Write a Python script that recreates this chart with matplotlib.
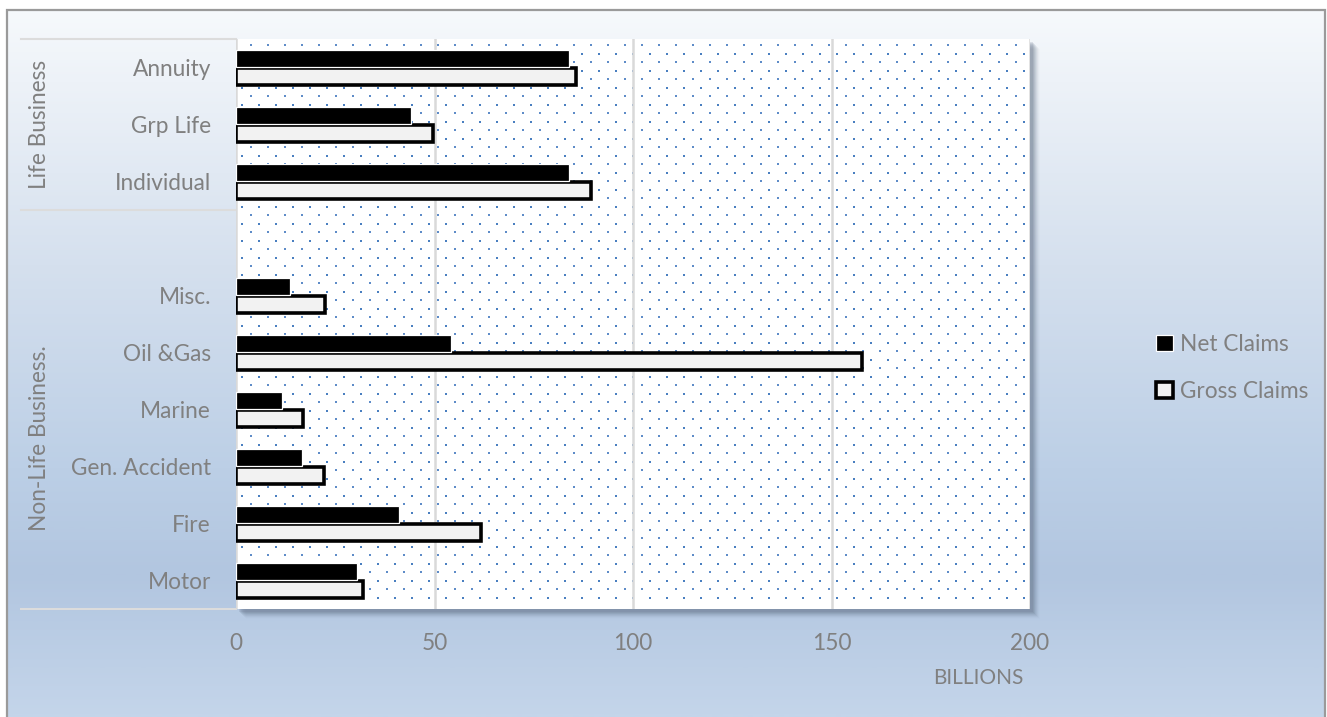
import numpy as np
import matplotlib
matplotlib.use("Agg")
import matplotlib.pyplot as plt
from matplotlib.patches import Rectangle
from matplotlib.colors import LinearSegmentedColormap

plt.rcParams['font.family'] = ['Lato', 'DejaVu Sans']

# ---------------- data ----------------
categories = ["Motor", "Fire", "Gen. Accident", "Marine", "Oil &Gas", "Misc.", "",
              "Individual", "Grp Life", "Annuity"]
net_claims = [30.4, 41.0, 16.5, 11.5, 54.2, 13.6, np.nan, 83.9, 44.2, 83.9]
gross_claims = [32.1, 61.7, 22.2, 16.8, 157.6, 22.4, np.nan, 89.4, 49.5, 85.6]
series_names = ["Net Claims", "Gross Claims"]
group_names = ["Non-Life Business.", "Life Business"]
group_spans = [(0, 5), (7, 9)]  # category index ranges
x_ticks = [0, 50, 100, 150, 200]
x_title = "BILLIONS"

W, H = 1327, 717
DPI = 100
fig = plt.figure(figsize=(W / DPI, H / DPI), dpi=DPI)
fig.patch.set_facecolor("white")

TXT = "#808080"
FS = 16.3

# ---------------- background (pixel coordinates) ----------------
bg = fig.add_axes([0, 0, 1, 1], zorder=-10)
bg.set_xlim(0, W)
bg.set_ylim(H, 0)
bg.axis("off")
stops = [(0.0, "#f6f9fc"), (0.10, "#edf2f8"), (0.36, "#d5e0ee"),
         (0.65, "#bccfe6"), (0.80, "#b2c6e0"), (1.0, "#c4d5ea")]
cmap = LinearSegmentedColormap.from_list("bgc", stops)
grad = np.linspace(0, 1, 400).reshape(-1, 1)
bx0, by0, bx1, by1 = 8, 10, 1325, 717
bg.imshow(grad, cmap=cmap, aspect="auto", extent=(bx0, bx1, by1, by0), zorder=0)
bg.plot([bx0 - 1, bx0 - 1, bx1, bx1], [by1 + 5, by0, by0, by1 + 5],
        color="#9a9a9a", lw=1.6, zorder=2, solid_joinstyle="miter")

# plot-area geometry in pixels
px0, px1, py0, py1 = 236, 1030, 39, 609

# shadow of plot area
for k, a in zip(range(1, 9), [0.16, 0.14, 0.12, 0.10, 0.08, 0.06, 0.04, 0.02]):
    bg.add_patch(Rectangle((px0 + k + 2, py0 + k + 2), px1 - px0, py1 - py0,
                           facecolor="#5a6a80", edgecolor="none", alpha=a, zorder=1))

# category-axis separators
for yy in [py0, 210, py1]:
    bg.plot([21, px0], [yy, yy], color="#dcdcdc", lw=1.5, zorder=3)

# ---------------- main axes ----------------
ax = fig.add_axes([px0 / W, 1 - py1 / H, (px1 - px0) / W, (py1 - py0) / H], zorder=1)
ax.set_facecolor("white")
n = len(categories)
ax.set_xlim(0, 200)
ax.set_ylim(-0.5, n - 0.5)

# dotted pattern (texture)
pw, ph = px1 - px0, py1 - py0
bxs = np.arange(6, pw, 17.0)
bys = np.arange(14.5, ph, 17.0)
BX, BY = np.meshgrid(bxs, bys)
ax.scatter(BX.ravel() / pw, 1 - BY.ravel() / ph, s=3.2, marker="s", color="#4a7fc0",
           linewidths=0, transform=ax.transAxes, zorder=0.5)
SX, SY = np.meshgrid(bxs + 8.5, bys - 8.5)
ax.scatter(SX.ravel() / pw, 1 - SY.ravel() / ph, s=0.9, marker="s", color="#5f8cc8",
           linewidths=0, transform=ax.transAxes, zorder=0.5)

# gridlines
for t in x_ticks:
    ax.axvline(t, color="#d9d9d9", lw=1.8, zorder=1)

y = np.arange(n)
h = 0.29
b_gross = ax.barh(y - 0.155, gross_claims, height=h, color="#f2f2f2", edgecolor="black",
                  linewidth=2.6, zorder=3, label=series_names[1])
b_net = ax.barh(y + 0.155, net_claims, height=h, color="black", edgecolor="white",
                linewidth=0.9, zorder=4, label=series_names[0])

ax.set_yticks(y)
ax.set_yticklabels(categories, fontsize=FS, color=TXT)
ax.tick_params(axis="y", length=0, pad=18)
ax.set_xticks(x_ticks)
ax.set_xticklabels([str(t) for t in x_ticks], fontsize=FS, color=TXT)
ax.tick_params(axis="x", length=0, pad=17)
for s in ax.spines.values():
    s.set_visible(False)

# group labels
for name, (a, b) in zip(group_names, group_spans):
    yc = (a + b) / 2
    ax.text(-0.248, yc, name, transform=ax.get_yaxis_transform(), rotation=90,
            ha="center", va="center", fontsize=FS, color=TXT)

# axis title
fig.text(978 / W, 1 - 678 / H, x_title, fontsize=FS - 1.3, color=TXT, ha="center", va="center")

# legend
leg = fig.legend(handles=[b_net, b_gross], labels=series_names, loc="center left",
                 bbox_to_anchor=(1136 / W, 1 - 368 / H), frameon=False, fontsize=FS,
                 labelcolor=TXT, handlelength=0.75, handleheight=0.75, handletextpad=0.3,
                 labelspacing=1.15)

fig.savefig("out.png", dpi=DPI)
